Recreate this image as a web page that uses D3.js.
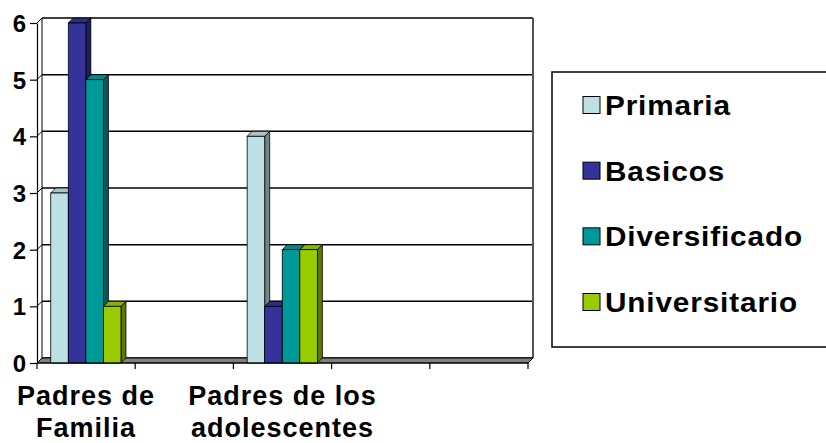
<!DOCTYPE html>
<html>
<head>
<meta charset="utf-8">
<script src="https://cdn.jsdelivr.net/npm/d3@7"></script>
<style>
  body { margin: 0; background: #fff; }
  svg { display: block; font-family: "Liberation Sans", Arial, sans-serif; }
</style>
</head>
<body>
<div id="chart"></div>
<script>
// --- Data ---
const categories = ["Padres de Familia", "", "Padres de los adolescentes", "", ""];
const series = ["Primaria", "Basicos", "Diversificado", "Universitario"];
const primaria = [3, null, 4, null, null];
const basicos = [6, null, 1, null, null];
const diversificado = [5, null, 2, null, null];
const universitario = [1, null, 2, null, null];
const yTicks = [0, 1, 2, 3, 4, 5, 6];
const colors = ["#BCE0E4", "#333399", "#009999", "#99CC00"];

const values = [primaria, basicos, diversificado, universitario];

const width = 826, height = 443;
const depth = { dx: 5, dy: -5 };

const svg = d3.select("#chart").append("svg")
  .attr("width", width)
  .attr("height", height);

// --- Scales ---
const x = d3.scaleBand()
  .domain(d3.range(categories.length))
  .range([37, 528])
  .paddingInner(0)
  .paddingOuter(0);

const bw = x.bandwidth();
const x0 = d3.scaleBand()
  .domain(series)
  .range([bw * 0.14, bw * 0.855]);

const y = d3.scaleLinear()
  .domain([0, 6])
  .range([363, 23]);

const color = d3.scaleOrdinal().domain(series).range(colors);

const shade = (c, k) => {
  const r = d3.rgb(c);
  return d3.rgb(r.r * k, r.g * k, r.b * k).formatHex();
};

const left = x.range()[0], right = x.range()[1];

// --- Back wall gridlines ---
svg.append("g")
  .selectAll("line")
  .data(yTicks)
  .join("line")
  .attr("x1", left + depth.dx)
  .attr("x2", right + depth.dx)
  .attr("y1", d => y(d) + depth.dy)
  .attr("y2", d => y(d) + depth.dy)
  .attr("stroke", "#000")
  .attr("stroke-width", 1.5);

// left wall diagonals
svg.append("g")
  .selectAll("line")
  .data(yTicks)
  .join("line")
  .attr("x1", left)
  .attr("x2", left + depth.dx)
  .attr("y1", d => y(d))
  .attr("y2", d => y(d) + depth.dy)
  .attr("stroke", "#000")
  .attr("stroke-width", 1);

// wall verticals
svg.append("line")
  .attr("x1", left + depth.dx).attr("x2", left + depth.dx)
  .attr("y1", y(6) + depth.dy).attr("y2", y(0) + depth.dy)
  .attr("stroke", "#000").attr("stroke-width", 1);
svg.append("line")
  .attr("x1", right + depth.dx).attr("x2", right + depth.dx)
  .attr("y1", y(6) + depth.dy).attr("y2", y(0) + depth.dy)
  .attr("stroke", "#555").attr("stroke-width", 2);

// --- Floor ---
svg.append("path")
  .attr("d", `M${left},${y(0)}L${right},${y(0)}L${right + depth.dx},${y(0) + depth.dy}L${left + depth.dx},${y(0) + depth.dy}Z`)
  .attr("fill", "#808080")
  .attr("stroke", "#000")
  .attr("stroke-width", 1);

// --- Bars (3D columns) ---
const bars = [];
categories.forEach((c, i) => {
  series.forEach((s, j) => {
    const v = values[j][i];
    if (v != null) bars.push({ cat: i, series: s, value: v });
  });
});

const g = svg.append("g")
  .selectAll("g")
  .data(bars)
  .join("g");

g.each(function(d) {
  const el = d3.select(this);
  const xa = x(d.cat) + x0(d.series);
  const xb = xa + x0.bandwidth();
  const yt = y(d.value);
  const yb = y(0);
  const c = color(d.series);
  // side
  el.append("path")
    .attr("d", `M${xb},${yt}L${xb + depth.dx},${yt + depth.dy}L${xb + depth.dx},${yb + depth.dy}L${xb},${yb}Z`)
    .attr("fill", shade(c, 0.6))
    .attr("stroke", "#000").attr("stroke-width", 0.8);
  // top
  el.append("path")
    .attr("d", `M${xa},${yt}L${xa + depth.dx},${yt + depth.dy}L${xb + depth.dx},${yt + depth.dy}L${xb},${yt}Z`)
    .attr("fill", shade(c, 0.88))
    .attr("stroke", "#000").attr("stroke-width", 0.8);
  // front
  el.append("rect")
    .attr("x", xa)
    .attr("y", yt)
    .attr("width", x0.bandwidth())
    .attr("height", yb - yt)
    .attr("fill", c)
    .attr("stroke", "#000").attr("stroke-width", 0.8);
});

// --- Y axis ---
const yAxis = svg.append("g")
  .attr("transform", `translate(${left},0)`)
  .call(d3.axisLeft(y).tickValues(yTicks).tickFormat(d3.format("d")).tickSize(7).tickSizeOuter(0).tickPadding(4));
yAxis.select(".domain").attr("stroke", "#000").attr("stroke-width", 1.2);
yAxis.selectAll(".tick line").attr("stroke", "#000").attr("stroke-width", 1.2);
yAxis.selectAll(".tick text")
  .attr("fill", "#000")
  .style("font-size", "24px")
  .style("font-weight", "bold")
  .attr("dy", "0.36em");

// --- X axis ---
svg.append("line")
  .attr("x1", left).attr("x2", right)
  .attr("y1", y(0)).attr("y2", y(0))
  .attr("stroke", "#000").attr("stroke-width", 1.2);

const bounds = d3.range(categories.length).map(i => x(i)).concat([right]);
svg.append("g")
  .selectAll("line")
  .data(bounds)
  .join("line")
  .attr("x1", d => d).attr("x2", d => d)
  .attr("y1", y(0)).attr("y2", y(0) + 6)
  .attr("stroke", "#000").attr("stroke-width", 1.2);

// category labels, wrapped
const labels = svg.append("g")
  .selectAll("text")
  .data(categories.map((c, i) => ({ c, i })).filter(d => d.c !== ""))
  .join("text")
  .attr("x", d => x(d.i) + bw / 2)
  .attr("y", 405)
  .attr("text-anchor", "middle")
  .style("font-size", "27px")
  .style("font-weight", "bold")
  .style("letter-spacing", "1px");

labels.each(function(d) {
  const t = d3.select(this);
  const words = d.c.split(" ");
  const maxW = bw * 2;
  let line = [];
  let tspan = t.append("tspan").attr("x", x(d.i) + bw / 2).attr("dy", 0);
  words.forEach(w => {
    line.push(w);
    tspan.text(line.join(" "));
    if (tspan.node().getComputedTextLength() > maxW && line.length > 1) {
      line.pop();
      tspan.text(line.join(" "));
      line = [w];
      tspan = t.append("tspan").attr("x", x(d.i) + bw / 2).attr("dy", 32).text(w);
    }
  });
});

// --- Legend ---
const legend = svg.append("g");
legend.append("rect")
  .attr("x", 552).attr("y", 72)
  .attr("width", 290).attr("height", 275)
  .attr("fill", "#fff")
  .attr("stroke", "#000")
  .attr("stroke-width", 1.5);

const ly = d3.scalePoint().domain(series).range([105, 302]);
const items = legend.selectAll("g.item")
  .data(series)
  .join("g")
  .attr("class", "item")
  .attr("transform", d => `translate(0,${ly(d)})`);

items.append("rect")
  .attr("x", 583).attr("y", -8.5)
  .attr("width", 17).attr("height", 17)
  .attr("fill", d => color(d))
  .attr("stroke", "#000")
  .attr("stroke-width", 1);

items.append("text")
  .attr("transform", "translate(605,10) scale(1.1,1)")
  .style("font-size", "27px")
  .style("font-weight", "bold")
  .style("letter-spacing", "0.8px")
  .text(d => d);
</script>
</body>
</html>
